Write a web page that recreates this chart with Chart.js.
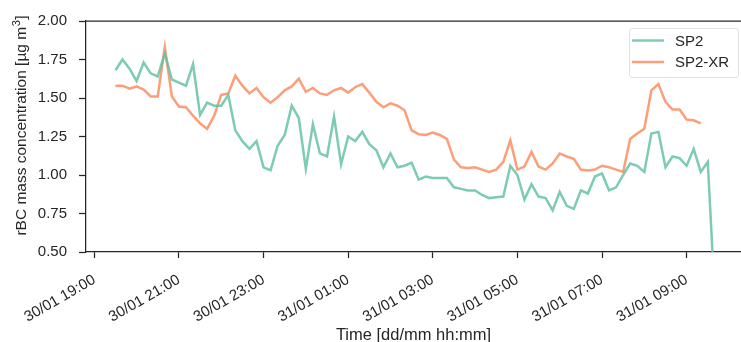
<!DOCTYPE html>
<html>
<head>
<meta charset="utf-8">
<script src="https://cdn.jsdelivr.net/npm/chart.js@4.4.1/dist/chart.umd.min.js"></script>
<style>
  html, body { margin: 0; padding: 0; background: #ffffff; overflow: hidden; }
  #wrap { width: 741px; height: 342px; }
</style>
</head>
<body>
<div id="wrap"><canvas id="chart" width="741" height="342"></canvas></div>
<script>
// rBC mass concentration, 10-minute averages, starting 30/01 19:30
const firstSampleHour = 19.5;          // hours since 30/01 00:00
const sampleStepHours = 10 / 60;

const sp2 = [
  1.68, 1.75, 1.69, 1.61, 1.73, 1.66, 1.64, 1.79, 1.62, 1.60,
  1.58, 1.72, 1.39, 1.47, 1.45, 1.45, 1.52, 1.29, 1.22, 1.17,
  1.22, 1.05, 1.03, 1.19, 1.26, 1.45, 1.37, 1.04, 1.33, 1.14,
  1.12, 1.38, 1.07, 1.25, 1.22, 1.28, 1.20, 1.16, 1.05, 1.14,
  1.05, 1.06, 1.08, 0.97, 0.99, 0.98, 0.98, 0.98, 0.92, 0.91,
  0.90, 0.90, 0.87, 0.85, 0.855, 0.86, 1.06, 1.00, 0.84, 0.94,
  0.86, 0.85, 0.77, 0.89, 0.80, 0.78, 0.90, 0.88, 0.99, 1.01,
  0.90, 0.92, 1.00, 1.075, 1.06, 1.02, 1.27, 1.28, 1.05, 1.12,
  1.11, 1.06, 1.17, 1.02, 1.085, 0.20
];

const sp2xr = [
  1.58, 1.58, 1.56, 1.575, 1.555, 1.51, 1.51, 1.83, 1.51, 1.445,
  1.44, 1.385, 1.335, 1.30, 1.385, 1.52, 1.53, 1.645, 1.58, 1.53,
  1.565, 1.505, 1.47, 1.505, 1.55, 1.575, 1.625, 1.54, 1.565, 1.53,
  1.52, 1.55, 1.565, 1.535, 1.57, 1.59, 1.535, 1.475, 1.44, 1.465,
  1.45, 1.42, 1.29, 1.265, 1.26, 1.275, 1.26, 1.235, 1.10, 1.05,
  1.045, 1.05, 1.035, 1.02, 1.035, 1.085, 1.225, 1.035, 1.055, 1.15,
  1.055, 1.035, 1.075, 1.14, 1.12, 1.105, 1.035, 1.03, 1.035, 1.06,
  1.05, 1.035, 1.02, 1.235, 1.27, 1.30, 1.55, 1.59, 1.475, 1.425,
  1.425, 1.36, 1.355, 1.335
];

const tickHours  = [19, 21, 23, 25, 27, 29, 31, 33];
const tickLabels = ['30/01 19:00', '30/01 21:00', '30/01 23:00', '31/01 01:00',
                    '31/01 03:00', '31/01 05:00', '31/01 07:00', '31/01 09:00'];

const yTicks = [0.50, 0.75, 1.00, 1.25, 1.50, 1.75, 2.00];

const seriesNames  = ['SP2', 'SP2-XR'];
const seriesColors = ['rgba(102,194,165,0.85)', 'rgba(252,141,98,0.85)'];

const yTitleMain = 'rBC mass concentration [\u00B5g m';
const yTitleSup  = '3';
const yTitleEnd  = ']';

const toPoints = arr => arr.map((v, i) => ({ x: firstSampleHour + i * sampleStepHours, y: v }));

const ink = '#262626';
const FONT = "'Liberation Sans', Arial, sans-serif";

// top spine, y-axis title with superscript, in-axes legend
const frameAndLegend = {
  id: 'frameAndLegend',
  afterDraw(chart) {
    const { ctx, chartArea } = chart;
    ctx.save();
    ctx.strokeStyle = ink;
    ctx.lineWidth = 1.25;
    ctx.beginPath();
    ctx.moveTo(chartArea.left, chartArea.top);
    ctx.lineTo(chartArea.right, chartArea.top);
    ctx.stroke();

    // y-axis title
    ctx.save();
    ctx.translate(22, 126);
    ctx.rotate(-Math.PI / 2);
    ctx.fillStyle = ink;
    ctx.textBaseline = 'middle';
    ctx.textAlign = 'left';
    const mainFont = '15.5px ' + FONT, supFont = '11px ' + FONT;
    ctx.font = mainFont;
    const w1 = ctx.measureText(yTitleMain).width;
    const w3 = ctx.measureText(yTitleEnd).width;
    ctx.font = supFont;
    const w2 = ctx.measureText(yTitleSup).width;
    let x0 = -(w1 + w2 + w3) / 2;
    ctx.font = mainFont;
    ctx.fillText(yTitleMain, x0, 0);
    ctx.font = supFont;
    ctx.fillText(yTitleSup, x0 + w1 + 0.5, -5);
    ctx.font = mainFont;
    ctx.fillText(yTitleEnd, x0 + w1 + w2 + 1, 0);
    ctx.restore();

    // legend box
    const bx = 629, by = 28, bw = 109, bh = 49, r = 3;
    ctx.fillStyle = 'rgba(255,255,255,0.85)';
    ctx.strokeStyle = '#e0e0e0';
    ctx.lineWidth = 1;
    ctx.beginPath();
    ctx.roundRect(bx + 0.5, by + 0.5, bw, bh, r);
    ctx.fill();
    ctx.stroke();

    ctx.font = '15px ' + FONT;
    ctx.textBaseline = 'middle';
    ctx.textAlign = 'left';
    chart.data.datasets.forEach((ds, i) => {
      const ly = by + 12.5 + i * 21.5;
      ctx.strokeStyle = ds.borderColor;
      ctx.lineWidth = 2.5;
      ctx.beginPath();
      ctx.moveTo(bx + 3, ly);
      ctx.lineTo(bx + 35, ly);
      ctx.stroke();
      ctx.fillStyle = ink;
      ctx.fillText(ds.label, bx + 46, ly + 1);
    });
    ctx.restore();
  }
};

new Chart(document.getElementById('chart'), {
  type: 'line',
  data: {
    datasets: [
      { label: seriesNames[0], data: toPoints(sp2),   borderColor: seriesColors[0], borderWidth: 2.5,
        pointRadius: 0, tension: 0, fill: false, clip: 0 },
      { label: seriesNames[1], data: toPoints(sp2xr), borderColor: seriesColors[1], borderWidth: 2.5,
        pointRadius: 0, tension: 0, fill: false, clip: 0 }
    ]
  },
  options: {
    responsive: false,
    animation: false,
    devicePixelRatio: 1,
    layout: { padding: { top: 20, right: 0, left: 0, bottom: 0 } },
    plugins: { legend: { display: false }, tooltip: { enabled: false } },
    scales: {
      x: {
        type: 'linear',
        min: 18.804,
        max: 34.285,
        afterBuildTicks: s => { s.ticks = tickHours.map(v => ({ value: v })); },
        afterFit: s => { s.height = 90; },
        grid: { drawOnChartArea: false, drawTicks: true, tickLength: 6, tickColor: ink, tickWidth: 1.25 },
        border: { display: true, color: ink, width: 1.25 },
        ticks: {
          autoSkip: false, maxRotation: 30, minRotation: 30, padding: 13,
          color: ink, font: { family: FONT, size: 15 },
          callback: (v, i) => tickLabels[i]
        },
        title: {
          display: true, text: 'Time [dd/mm hh:mm]', color: ink,
          font: { family: FONT, size: 16.5 }, padding: { top: 0, bottom: -3 }
        }
      },
      y: {
        min: 0.5,
        max: 2.0,
        afterBuildTicks: s => { s.ticks = yTicks.map(v => ({ value: v })); },
        afterFit: s => { s.width = 86; },
        grid: { drawOnChartArea: false, drawTicks: true, tickLength: 7, tickColor: ink, tickWidth: 1.25 },
        border: { display: true, color: ink, width: 1.25 },
        ticks: {
          padding: 12, color: ink, font: { family: FONT, size: 15 },
          callback: v => Number(v).toFixed(2)
        },
        title: { display: false }
      }
    }
  },
  plugins: [frameAndLegend]
});
</script>
</body>
</html>
